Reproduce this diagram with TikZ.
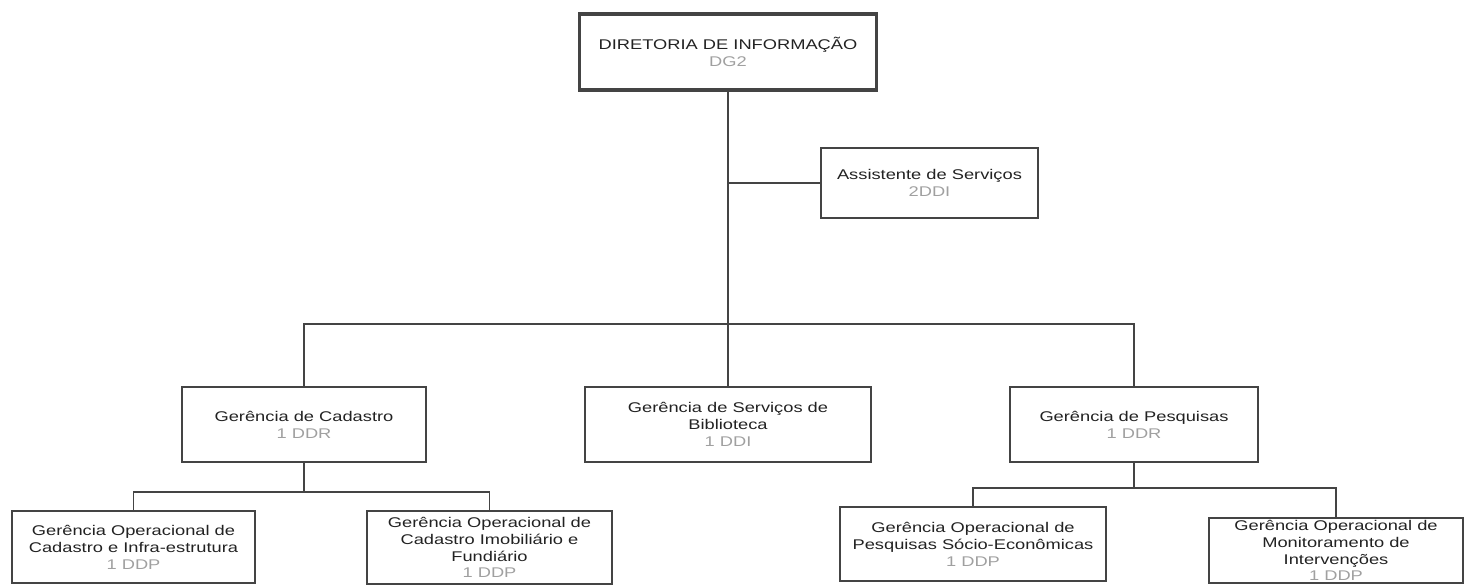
\documentclass[tikz,border=0pt]{standalone}
\usepackage{fontspec}
\setmainfont[FakeStretch=1.3]{Liberation Sans}

\definecolor{linha}{HTML}{444444}
\definecolor{texto}{HTML}{222222}
\definecolor{cinza}{HTML}{A0A0A0}
\newcommand{\nivel}[1]{\\\textcolor{cinza}{#1}}

\begin{document}
\begin{tikzpicture}[x=0.025cm,y=-0.025cm,
  caixa/.style 2 args={draw=linha,line width=0.8pt,align=center,inner sep=0pt,
    minimum width=#1*0.025cm,minimum height=#2*0.025cm,text=texto,
    font=\fontsize{10}{12}\selectfont},
  ligacao/.style={draw=linha,line width=0.8pt}]

  \useasboundingbox (0,0) rectangle (1464,585);

  \node[caixa={297}{76},line width=2.2pt] (diretoria) at (728,52) {DIRETORIA DE INFORMAÇÃO\nivel{DG2}};
  \node[caixa={217}{70}] (assistente) at (929.5,183) {Assistente de Serviços\nivel{2DDI}};

  \node[caixa={244}{75}] (cadastro) at (304,424.5) {Gerência de Cadastro\nivel{1 DDR}};
  \node[caixa={286}{75}] (biblioteca) at (728,424.5) {Gerência de Serviços de\\Biblioteca\nivel{1 DDI}};
  \node[caixa={248}{75}] (pesquisas) at (1134,424.5) {Gerência de Pesquisas\nivel{1 DDR}};

  \node[caixa={243}{72}] (infra) at (133.5,547) {Gerência Operacional de\\Cadastro e Infra-estrutura\nivel{1 DDP}};
  \node[caixa={245}{73}] (imobiliario) at (489.5,547.5) {Gerência Operacional de\\Cadastro Imobiliário e\\Fundiário\nivel{1 DDP}};
  \node[caixa={266}{74}] (socio) at (973,544) {Gerência Operacional de\\Pesquisas Sócio-Econômicas\nivel{1 DDP}};
  \node[caixa={254}{65}] (monitoramento) at (1336,550.5) {Gerência Operacional de\\Monitoramento de\\Intervenções\nivel{1 DDP}};

  \coordinate (barra) at (728,324);
  \coordinate (barraCad) at (304,492);
  \coordinate (barraPes) at (1134,488);

  \draw[ligacao] (diretoria.south) -- (barra);
  \draw[ligacao] (diretoria.south |- assistente.west) -- (assistente.west);
  \draw[ligacao] (cadastro.north) |- (barra) -| (pesquisas.north);
  \draw[ligacao] (biblioteca.north) -- (barra);

  % segundo nivel
  \draw[ligacao] (cadastro.south) -- (barraCad);
  \draw[ligacao] (infra.north) |- (barraCad) -| (imobiliario.north);
  \draw[ligacao] (pesquisas.south) -- (barraPes);
  \draw[ligacao] (socio.north) |- (barraPes) -| (monitoramento.north);

\end{tikzpicture}
\end{document}
